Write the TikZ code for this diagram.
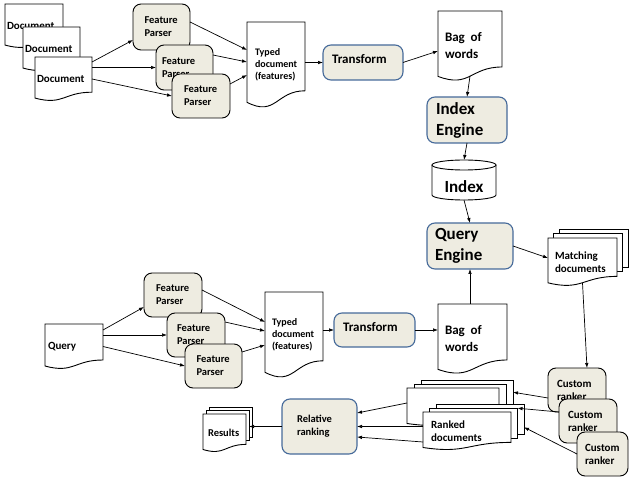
\documentclass[tikz,border=0pt]{standalone}
\usepackage{fontspec}
\setmainfont{Carlito}
\usetikzlibrary{arrows.meta,calc}
\definecolor{beige}{RGB}{238,236,225}
\definecolor{bblue}{RGB}{70,106,154}
\makeatletter
\newdimen\dcXa \newdimen\dcXb \newdimen\dcYa \newdimen\dcYb
\newdimen\dcH \newdimen\dcM \newdimen\dcR \newdimen\dcL \newdimen\dcC
\pgfdeclareshape{docwave}{%
  \inheritsavedanchors[from=rectangle]%
  \inheritanchorborder[from=rectangle]%
  \inheritanchor[from=rectangle]{center}%
  \inheritanchor[from=rectangle]{north}%
  \inheritanchor[from=rectangle]{south}%
  \inheritanchor[from=rectangle]{east}%
  \inheritanchor[from=rectangle]{west}%
  \inheritanchor[from=rectangle]{north east}%
  \inheritanchor[from=rectangle]{north west}%
  \inheritanchor[from=rectangle]{south east}%
  \inheritanchor[from=rectangle]{south west}%
  \inheritanchor[from=rectangle]{base}%
  \inheritanchor[from=rectangle]{mid}%
  \backgroundpath{%
    \southwest \dcXa=\pgf@x \dcYa=\pgf@y
    \northeast \dcXb=\pgf@x \dcYb=\pgf@y
    \dcH=\dcYb \advance\dcH by -\dcYa
    \dcM=.5\dcXa \advance\dcM by .5\dcXb
    \dcR=\dcYa \advance\dcR by .2\dcH
    \dcL=\dcYa \advance\dcL by .066\dcH
    \dcC=\dcYa \advance\dcC by -.107\dcH
    \pgfpathmoveto{\pgfqpoint{\dcXa}{\dcYb}}%
    \pgfpathlineto{\pgfqpoint{\dcXb}{\dcYb}}%
    \pgfpathlineto{\pgfqpoint{\dcXb}{\dcR}}%
    \pgfpathcurveto{\pgfqpoint{\dcM}{\dcR}}{\pgfqpoint{\dcM}{\dcC}}{\pgfqpoint{\dcXa}{\dcL}}%
    \pgfpathclose
  }%
}
\makeatother
\begin{document}
\begin{tikzpicture}[x=1pt,y=-1pt,
  conn/.style={line width=0.7pt,-{Latex[length=5pt,width=3.6pt]}},
  docw/.style={shape=docwave,draw,fill=white,line width=0.9pt,anchor=north west,inner xsep=0pt,inner ysep=0pt,outer sep=0pt,align=left},
  pgb/.style={rectangle,draw,fill=white,line width=0.9pt,anchor=north west,inner sep=0pt,outer sep=0pt},
  proc/.style={rectangle,rounded corners=8pt,draw=black,fill=beige,line width=0.9pt,anchor=north west,inner xsep=0pt,inner ysep=0pt,outer sep=0pt,align=left},
  bproc/.style={proc,draw=bblue,line width=1.1pt},
  fS/.style={font=\fontsize{10.5}{13}\selectfont\bfseries},
  fD/.style={font=\fontsize{11}{13}\selectfont\bfseries},
  fT/.style={font=\fontsize{10}{12}\selectfont\bfseries},
  fM/.style={font=\fontsize{13}{17}\selectfont\bfseries},
  fL/.style={font=\fontsize{17}{21}\selectfont\bfseries}]
\useasboundingbox (0,0) rectangle (629,478);

% ---------- indexing pipeline ----------
\node[docw,fD,minimum width=58,minimum height=44,text width=54] (d1) at (5,4) {Document};
\node[docw,fD,minimum width=57,minimum height=44,text width=53] (d2) at (23,27) {Document};
\node[docw,fD,minimum width=57,minimum height=44,text width=53] (d3) at (35,57) {Document};

\node[proc,fS,minimum width=57,minimum height=46,text width=34] (fp1) at (133,4) {Feature\\Parser};
\node[proc,fS,minimum width=57,minimum height=45,text width=45] (fp2) at (156,45) {Feature\\Parser};
\node[proc,fS,minimum width=58,minimum height=44,text width=34] (fp3) at (172,74) {Feature\\Parser};

\node[docw,fT,minimum width=58,minimum height=86,text width=42] (td1) at (247,22) {Typed\\document\\(features)};
\node[bproc,fM,minimum width=80,minimum height=35,text width=62,text depth=7pt] (tr1) at (323,45) {Transform};
\node[docw,fM,minimum width=64,minimum height=70,text width=50] (bag1) at (438,11) {Bag\hspace{1.5pt} of\\words};
\node[bproc,fL,minimum width=80,minimum height=46,text width=62] (ie) at (427,97) {Index\\Engine};

\node[inner sep=0pt,outer sep=0pt,minimum width=64,minimum height=40] (idx) at (464,180) {};
\draw[line width=0.9pt] ([yshift=-5]idx.north west) -- ([yshift=5]idx.south west)
  arc[start angle=180,end angle=0,x radius=32,y radius=5] -- ([yshift=-5]idx.north east);
\draw[line width=0.9pt] ([yshift=-5]idx.north) ellipse [x radius=32,y radius=5];
\node[fL] (idxt) at ([yshift=-7]idx.center) {Index};

\node[bproc,fL,minimum width=86,minimum height=46,text width=70] (qe) at (427,223) {Query\\Engine};

\node[pgb,minimum width=69,minimum height=38.4] (md2) at (559,229) {};
\node[pgb,minimum width=69,minimum height=38.4] (md1) at (553.5,233.5) {};
\node[docw,fD,minimum width=69,minimum height=48,text width=55] (md) at (548,238) {Matching\\documents};

% ---------- query pipeline ----------
\node[docw,fD,minimum width=58,minimum height=45,text width=52] (q) at (45,324) {Query};

\node[proc,fS,minimum width=58,minimum height=44,text width=34] (fpq1) at (144,273) {Feature\\Parser};
\node[proc,fS,minimum width=58,minimum height=44,text width=38] (fpq2) at (167,313) {Feature\\Parser};
\node[proc,fS,minimum width=57,minimum height=44,text width=34] (fpq3) at (185,344) {Feature\\Parser};

\node[docw,fT,minimum width=58,minimum height=86,text width=44] (td2) at (265,292) {Typed\\document\\(features)};
\node[bproc,fM,minimum width=81,minimum height=34,text width=63,text depth=7pt] (tr2) at (334,313) {Transform};
\node[docw,fM,minimum width=69,minimum height=70,text width=55] (bag2) at (438,304) {Bag\hspace{1.5pt} of\\words};

% ---------- ranking ----------
\node[pgb,minimum width=92,minimum height=30.4] (rkA2) at (421,380) {};
\node[pgb,minimum width=92,minimum height=30.4] (rkA1) at (414,384) {};
\node[docw,minimum width=92,minimum height=38] (rkA) at (407,388) {};
\node[pgb,minimum width=88,minimum height=30.4] (rkB2) at (436,404) {};
\node[pgb,minimum width=88,minimum height=30.4] (rkB1) at (429.5,408) {};
\node[docw,fD,minimum width=88,minimum height=38,text width=72] (rkB) at (423,412) {Ranked\\documents};

\node[proc,fD,minimum width=58,minimum height=44,text width=40] (cr1) at (548,368) {Custom\\ranker};
\node[proc,fD,minimum width=58,minimum height=44,text width=40] (cr2) at (559,399) {Custom\\ranker};
\node[proc,fD,minimum width=51,minimum height=44,text width=35] (cr3) at (577,432) {Custom\\ranker};

\node[bproc,fS,minimum width=75,minimum height=55,text width=45] (rr) at (282,399) {Relative\\ranking};

\node[pgb,minimum width=43,minimum height=30.4] (res2) at (209,407) {};
\node[pgb,minimum width=43,minimum height=30.4] (res1) at (206,410.5) {};
\node[docw,fS,minimum width=43,minimum height=38,text width=33] (res) at (203,414) {Results};

% ---------- connectors ----------
\draw[conn] ([yshift=17]d3.east) -- ([yshift=-13]fp1.west);
\draw[conn] (fp2.west -| d3.east) -- (fp2.west);
\draw[conn] (d3.east) -- (fp3.west);
\draw[conn] ([yshift=5]fp1.east) -- ([yshift=15]td1.west);
\draw[conn] ([yshift=12.5]fp2.east) -- ([yshift=3]td1.west);
\draw[conn] ([yshift=12]fp3.east) -- ([yshift=-10]td1.west);
\draw[conn] (td1.east |- tr1.west) -- (tr1.west);
\draw[conn] (tr1.east) -- ([yshift=-5]bag1.west);
\draw[conn] ([yshift=5]bag1.south) -- (ie.north);
\draw[conn] (ie.south) -- (idx.north);
\draw[conn] (idx.south) -- (qe.north);
\draw[conn] (qe.east) -- ([yshift=4]md.west);
\draw[conn] ([yshift=3]md.south) -- ([xshift=10]cr1.north);

\draw[conn] ([yshift=16.5]q.east) -- ([yshift=-12]fpq1.west);
\draw[conn] (fpq2.west -| q.east) -- (fpq2.west);
\draw[conn] (q.east) -- (fpq3.west);
\draw[conn] ([yshift=5]fpq1.east) -- ([yshift=13]td2.west);
\draw[conn] ([yshift=13]fpq2.east) -- ([yshift=4]td2.west);
\draw[conn] ([yshift=14]fpq3.east) -- ([yshift=-10]td2.west);
\draw[conn] (td2.east |- tr2.west) -- (tr2.west);
\draw[conn] (tr2.east) -- (tr2.east -| bag2.west);
\draw[conn] (qe.south |- bag2.north) -- (qe.south);

\draw[conn] ([yshift=-8]cr1.west) -- ([yshift=3]rkA2.east);
\draw[conn] ([yshift=9]cr2.west) -- ([yshift=15]rkB1.east);
\draw[conn] (cr3.west) -- ([yshift=-8]rkB2.east);
\draw[conn] ([yshift=4]rkA.west) -- ([yshift=13.5]rr.east);
\draw[conn] (rr.east -| rkB.west) -- (rr.east);
\draw[conn] ([yshift=-11]rkB.west) -- ([yshift=-10.5]rr.east);
\draw[conn] (rr.west) -- (rr.west -| res1.east);
\end{tikzpicture}
\end{document}
